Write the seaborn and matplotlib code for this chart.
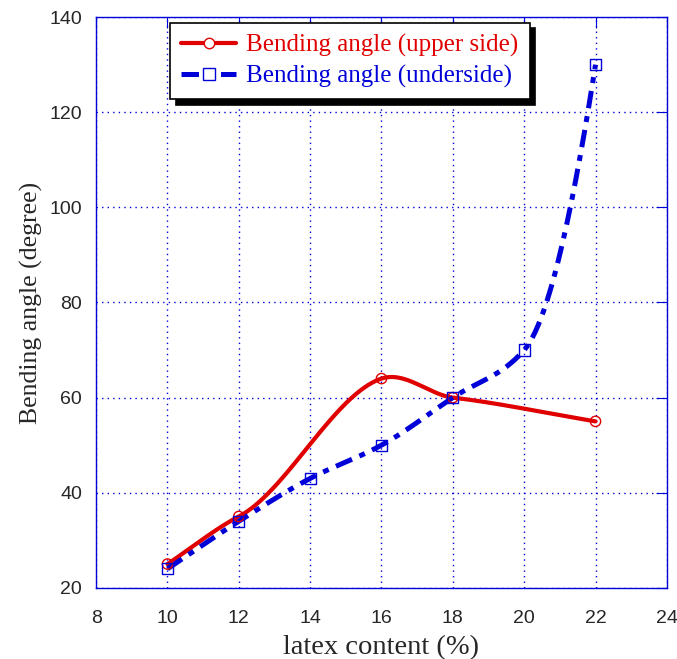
import numpy as np
import matplotlib
matplotlib.use("Agg")
import matplotlib.pyplot as plt
from matplotlib.lines import Line2D
import seaborn as sns

# values
upper_x = [10, 12, 16, 18, 22]
upper_y = [25, 35, 64, 60, 55]
under_x = [10, 12, 14, 16, 18, 20, 22]
under_y = [24, 34, 43, 50, 60, 70, 130]

x_ticks = [8, 10, 12, 14, 16, 18, 20, 22, 24]
y_ticks = [20, 40, 60, 80, 100, 120, 140]
labels = ["Bending angle (upper side)", "Bending angle (underside)"]


def hermite(x, y, m, n=300):
    h = np.diff(x)
    xs = np.linspace(x[0], x[-1], n)
    idx = np.clip(np.searchsorted(x, xs) - 1, 0, len(x) - 2)
    t = (xs - x[idx]) / h[idx]
    h00 = 2 * t**3 - 3 * t**2 + 1
    h10 = t**3 - 2 * t**2 + t
    h01 = -2 * t**3 + 3 * t**2
    h11 = t**3 - t**2
    ys = h00 * y[idx] + h10 * h[idx] * m[idx] + h01 * y[idx + 1] + h11 * h[idx] * m[idx + 1]
    return xs, ys


def cardinal(x, y, tension=0.4):
    x = np.asarray(x, float)
    y = np.asarray(y, float)
    m = np.zeros(len(x))
    m[1:-1] = (1 - tension) * (y[2:] - y[:-2]) / (x[2:] - x[:-2])
    m[0] = (y[1] - y[0]) / (x[1] - x[0])
    m[-1] = (y[-1] - y[-2]) / (x[-1] - x[-2])
    return hermite(x, y, m)


def monotone(x, y, end=1.6):
    x = np.asarray(x, float)
    y = np.asarray(y, float)
    h = np.diff(x)
    d = np.diff(y) / h
    m = np.zeros(len(x))
    for i in range(1, len(x) - 1):
        if d[i - 1] * d[i] > 0:
            w1 = 2 * h[i] + h[i - 1]
            w2 = h[i] + 2 * h[i - 1]
            m[i] = (w1 + w2) / (w1 / d[i - 1] + w2 / d[i])
    m[0] = d[0]
    m[-1] = d[-1] * end
    return hermite(x, y, m)


sns.set_style("white")
plt.rcParams["font.family"] = ["Liberation Sans", "DejaVu Sans"]

fig = plt.figure(figsize=(6.77, 6.59), dpi=100)
ax = fig.add_axes([0.142, 0.108, 0.843, 0.866])

red = "#e00000"
blue = "#0000d8"
dash = [3.5, 1.6, 1.2, 1.6]

sx, sy = cardinal(upper_x, upper_y)
sns.lineplot(x=sx, y=sy, ax=ax, color=red, lw=3.0, sort=False, zorder=3)
bx, by = monotone(under_x, under_y)
sns.lineplot(x=bx, y=by, ax=ax, color=blue, lw=3.6, sort=False, zorder=3)
ax.lines[-1].set_dashes(dash)

sns.scatterplot(x=upper_x, y=upper_y, ax=ax, marker="o", s=55,
                facecolor="none", edgecolor=red, linewidth=1, zorder=4)
sns.scatterplot(x=under_x, y=under_y, ax=ax, marker="s", s=65,
                facecolor="none", edgecolor=blue, linewidth=1, zorder=4)

ax.set_xlim(8, 24)
ax.set_ylim(20, 140)
ax.set_xticks(x_ticks)
ax.set_yticks(y_ticks)
ax.grid(True, color=blue, ls=(0, (1, 3)), lw=1)
for s in ax.spines.values():
    s.set_color(blue)
    s.set_linewidth(1)
ax.tick_params(direction="in", length=8, color=blue, labelsize=14,
               top=True, right=True, labeltop=False, labelright=False)
ax.tick_params(axis="x", pad=16)
ax.tick_params(axis="y", pad=10)

serif = ["Liberation Serif", "DejaVu Serif"]
ax.set_xlabel("latex content (%)", fontsize=20.5, family=serif, labelpad=6)
ax.set_ylabel("Bending angle (degree)", fontsize=18.5, family=serif, labelpad=5)

handles = [
    Line2D([], [], color=red, lw=3.0, marker="o", mfc="white", mec=red, ms=7.5),
    Line2D([], [], color=blue, lw=3.6, marker="s", mfc="white", mec=blue, ms=8,
           dashes=dash),
]
leg = ax.legend(handles, labels,
                loc="upper left", bbox_to_anchor=(0.1296, 0.99), borderaxespad=0,
                frameon=True, fancybox=False,
                shadow={"color": "black", "alpha": 1, "ox": 4, "oy": -4},
                edgecolor="black", framealpha=1, borderpad=0.45,
                handlelength=2.2, handletextpad=0.4, labelspacing=0.3,
                prop={"family": serif, "size": 18})
leg.get_frame().set_linewidth(1.2)
for t, c in zip(leg.get_texts(), [red, blue]):
    t.set_color(c)

fig.savefig("out.png", dpi=100)
